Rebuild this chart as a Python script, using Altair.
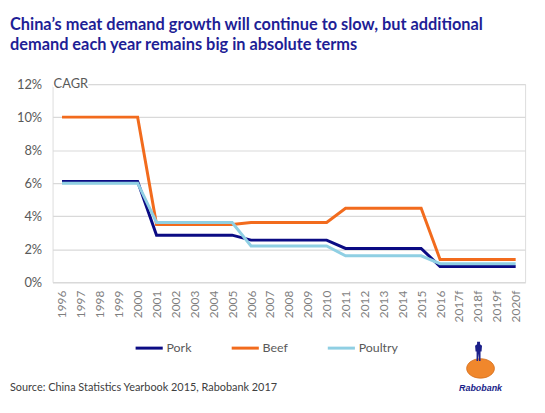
import altair as alt
import pandas as pd

years = ["1996", "1997", "1998", "1999", "2000", "2001", "2002", "2003", "2004", "2005",
         "2006", "2007", "2008", "2009", "2010", "2011", "2012", "2013", "2014", "2015",
         "2016", "2017f", "2018f", "2019f", "2020f"]
pork = [6.1, 6.1, 6.1, 6.1, 6.1, 2.85, 2.85, 2.85, 2.85, 2.85,
        2.55, 2.55, 2.55, 2.55, 2.55, 2.05, 2.05, 2.05, 2.05, 2.05,
        0.95, 0.95, 0.95, 0.95, 0.95]
beef = [10.0, 10.0, 10.0, 10.0, 10.0, 3.5, 3.5, 3.5, 3.5, 3.5,
        3.62, 3.62, 3.62, 3.62, 3.62, 4.48, 4.48, 4.48, 4.48, 4.48,
        1.38, 1.38, 1.38, 1.38, 1.38]
poultry = [6.0, 6.0, 6.0, 6.0, 6.0, 3.62, 3.62, 3.62, 3.62, 3.62,
           2.2, 2.2, 2.2, 2.2, 2.2, 1.6, 1.6, 1.6, 1.6, 1.6,
           1.12, 1.12, 1.12, 1.12, 1.12]
series = ["Pork", "Beef", "Poultry"]
colors = ["#0b0b84", "#f26b1d", "#8fcfe3"]
y_ticks = [0, 2, 4, 6, 8, 10, 12]

title_lines = ["China\u2019s meat demand growth will continue to slow, but additional",
               "demand each year remains big in absolute terms"]
source_text = "Source: China Statistics Yearbook 2015, Rabobank 2017"

rows = []
for name, vals in zip(series, [pork, beef, poultry]):
    for yr, v in zip(years, vals):
        rows.append({"year": yr, "value": v, "meat": name})
df = pd.DataFrame(rows)

FONT = "Lato"
W, H = 477, 200

lines = alt.Chart(df).mark_line(strokeWidth=3).encode(
    x=alt.X("year:N", sort=years, scale=alt.Scale(type="point", padding=0.5),
            axis=alt.Axis(title=None, labelAngle=270, labelAlign="right", labelBaseline="middle",
                          labelFontSize=12, labelColor="#7f7f7f", labelPadding=8,
                          ticks=False, domain=True, domainColor="#d9d9d9", domainWidth=1.2,
                          labelFont=FONT, grid=False)),
    y=alt.Y("value:Q", scale=alt.Scale(domain=[0, 12], nice=False),
            axis=alt.Axis(title=None, values=y_ticks, labelExpr="datum.value + '%'",
                          labelFontSize=13, labelColor="#595959", labelPadding=11,
                          ticks=False, domain=False, grid=True, gridColor="#d9d9d9",
                          gridWidth=1.2, labelFont=FONT)),
    color=alt.Color("meat:N", sort=series,
                    scale=alt.Scale(domain=series, range=colors),
                    legend=alt.Legend(title=None, orient="none", legendX=82, legendY=251,
                                      direction="horizontal", symbolType="stroke",
                                      symbolStrokeWidth=3, symbolSize=750,
                                      labelFontSize=12.5, labelColor="#595959",
                                      labelFont=FONT, columnPadding=33, labelOffset=2)),
    order=alt.Order("meat:N"),
)

cagr_df = pd.DataFrame({"t": ["CAGR"]})
cagr_bg = alt.Chart(cagr_df).mark_rect(color="white").encode(
    x=alt.value(0), x2=alt.value(36), y=alt.value(-3), y2=alt.value(3))
cagr = alt.Chart(cagr_df).mark_text(align="left", baseline="middle", fontSize=13,
                                    color="#595959", font=FONT).encode(
    x=alt.value(1), y=alt.value(0), text="t:N")

src = alt.Chart(pd.DataFrame({"t": [source_text]})).mark_text(
    align="left", baseline="middle", fontSize=11, color="#404040", font=FONT).encode(
    x=alt.value(-43), y=alt.value(307), text="t:N")

logo_ball = alt.Chart(pd.DataFrame({"t": ["ball"]})).mark_point(
    shape="M -1 0 A 1 0.7 0 1 0 1 0 A 1 0.7 0 1 0 -1 0 Z",
    filled=True, fill="#f0872c", stroke="#d26a16", strokeWidth=0.8, size=784, opacity=1).encode(
    x=alt.value(432), y=alt.value(287))
logo_man = alt.Chart(pd.DataFrame({"t": ["man"]})).mark_point(
    shape="M -0.15 -1 L 0.15 -1 L 0.15 -0.75 L 0.35 -0.6 L 0.3 0 L 0.2 0 L 0.2 0.95 L 0.05 0.95 L 0 0.2 L -0.05 0.95 L -0.2 0.95 L -0.2 0 L -0.3 0 L -0.35 -0.6 L -0.15 -0.75 Z",
    filled=True, fill="#1b1f8a", strokeWidth=0, size=400, opacity=1).encode(
    x=alt.value(430), y=alt.value(270))
logo_text = alt.Chart(pd.DataFrame({"t": ["Rabobank"]})).mark_text(
    align="center", baseline="middle", fontSize=9, fontWeight="bold", fontStyle="italic",
    color="#1b1f8a", font="Liberation Sans").encode(
    x=alt.value(432), y=alt.value(307), text="t:N")

chart = alt.layer(lines, cagr_bg, cagr, src, logo_ball, logo_man, logo_text).properties(
    width=W, height=H,
    autosize=alt.AutoSizeParams(type="none"),
    padding={"left": 45, "top": 75, "right": 12, "bottom": 112},
    title=alt.TitleParams(text=title_lines, anchor="start", frame="group", dx=-43,
                          offset=25, fontSize=16.5, fontWeight="bold", color="#1e1e96",
                          font=FONT, lineHeight=20, baseline="top"),
).configure_view(stroke=None).configure(background="white")

chart.save("out.html", embed_options={"renderer": "svg", "actions": False})
